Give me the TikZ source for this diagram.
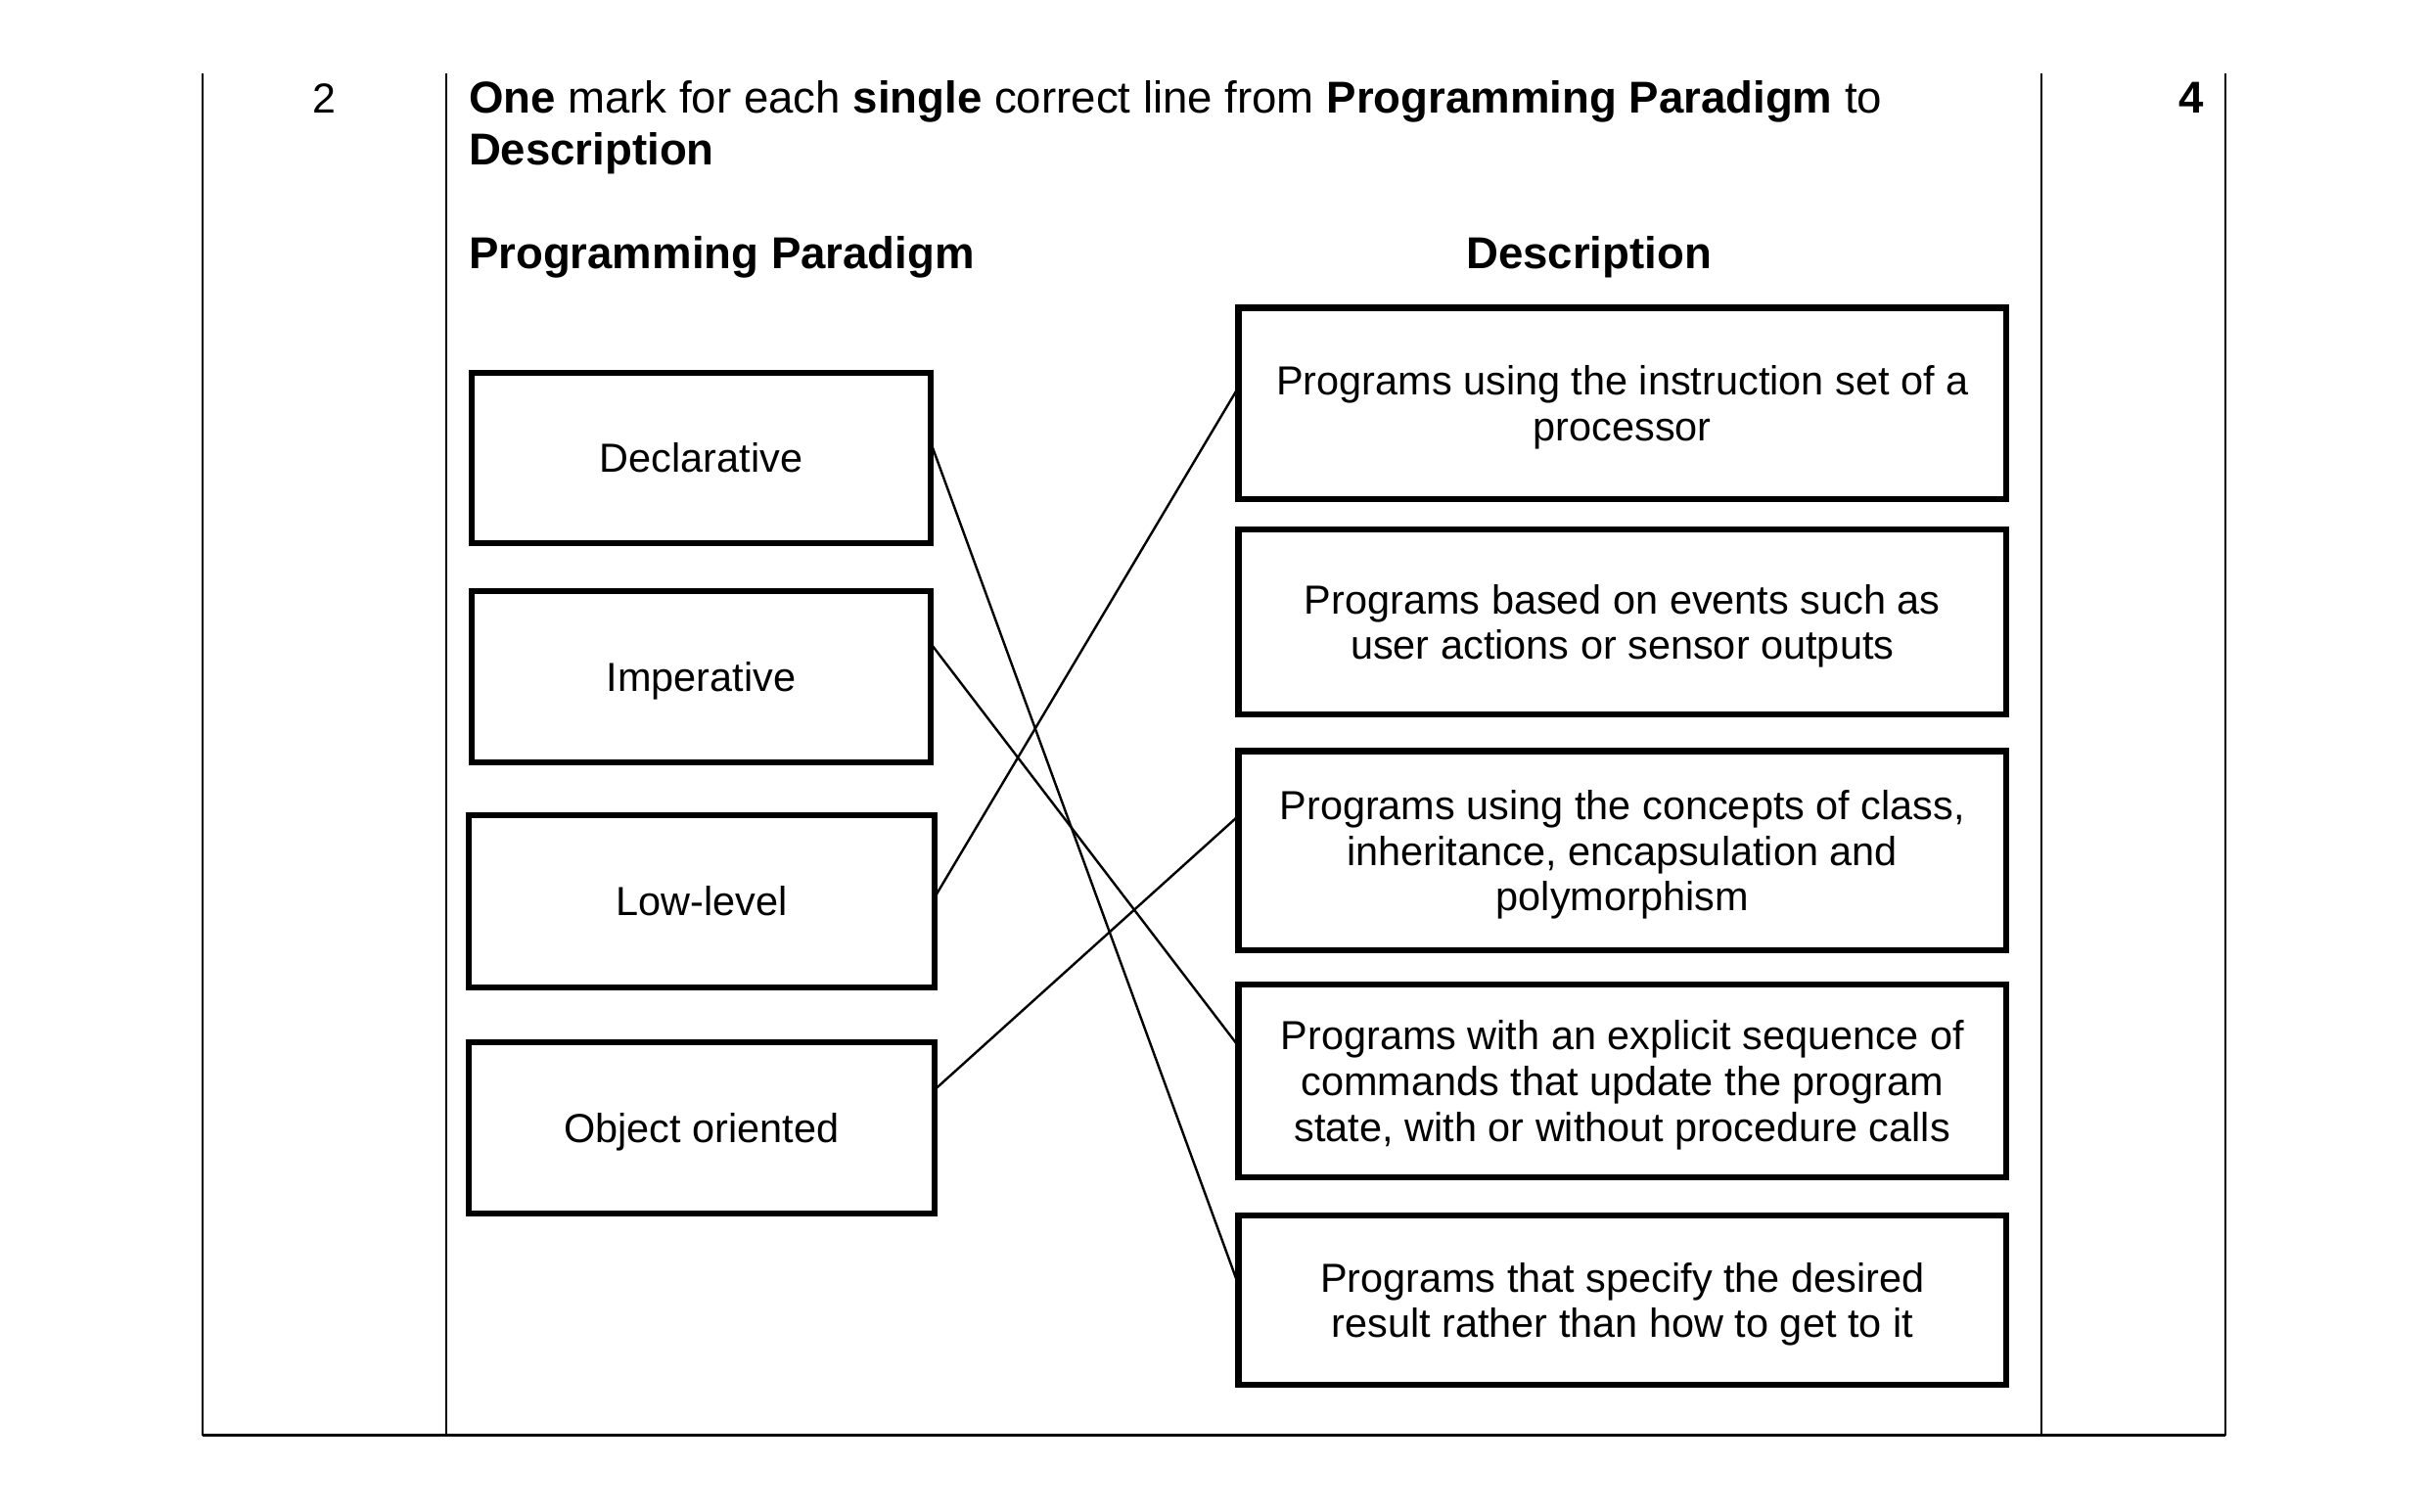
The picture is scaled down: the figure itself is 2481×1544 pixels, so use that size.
\documentclass[tikz,border=0pt]{standalone}
\usepackage{fontspec}
\setmainfont{Liberation Sans}
\newdimen\pxu
\pxu=0.2895pt
\newcommand\capline[1]{\raisebox{0pt}[8.6pt][0pt]{#1}}
\newcommand\capbig[1]{\raisebox{0pt}[9.45pt][0pt]{#1}}
\begin{document}
\begin{tikzpicture}[x=0.2895pt,y=-0.2895pt,
  tabline/.style={line width=0.65pt,black},
  conn/.style={line width=0.7pt,black},
  boxbase/.style={draw,line width=2pt,inner sep=0pt,outer sep=0pt,align=center,
    font=\fontsize{12}{13.5}\selectfont},
  lbox/.style={boxbase,minimum width=469\pxu},
  lboxw/.style={boxbase,minimum width=476\pxu},
  rbox/.style={boxbase,minimum width=784.5\pxu},
  txt/.style={inner sep=0pt,outer sep=0pt,font=\fontsize{13.2}{15.17}\selectfont}]
\useasboundingbox (0,0) rectangle (2481,1544);
% table frame
\coordinate (t1) at (207,75);   \coordinate (b1) at (207,1466.5);
\coordinate (t2) at (456,75);   \coordinate (b2) at (456,1466.5);
\coordinate (t3) at (2086,75);  \coordinate (b3) at (2086,1466.5);
\coordinate (t4) at (2274,75);  \coordinate (b4) at (2274,1466.5);
\draw[tabline] (t1) -- (b1);
\draw[tabline] (t2) -- (b2);
\draw[tabline] (t3) -- (b3);
\draw[tabline] (t4) -- (b4);
\draw[tabline] (b1) -- (b4);
% header texts
\node[txt,anchor=base,font=\fontsize{12.4}{14}\selectfont] (qnum) at (331.5,115.8) {2};
\node[txt,anchor=base] (marks) at (2239.3,115.8) {\textbf{4}};
\node[txt,anchor=north west,align=left] (instr) at (479,83.2)
  {\capbig{\textbf{One} mark for each \textbf{single} correct line from \textbf{Programming Paradigm} to}\\
   \textbf{Description}};
\node[txt,anchor=base west] (hpp) at (479,274) {\textbf{Programming Paradigm}};
\node[txt,anchor=base] (hdesc) at (1623.6,274) {\textbf{Description}};
% left boxes
\node[lbox,minimum height=174\pxu] (dec) at (716.5,468) {\capline{Declarative}};
\node[lbox,minimum height=175\pxu] (imp) at (716.5,691.5) {\capline{Imperative}};
\node[lboxw,minimum height=176\pxu] (low) at (717,921) {\capline{Low-level}};
\node[lboxw,minimum height=175\pxu] (obj) at (717,1152.5) {\capline{Object oriented}};
% right boxes
\node[rbox,minimum height=195.5\pxu] (d1) at (1657.75,412.25)
  {\capline{Programs using the instruction set of a}\\\capline{processor}};
\node[rbox,minimum height=189\pxu] (d2) at (1657.75,635.5)
  {\capline{Programs based on events such as}\\\capline{user actions or sensor outputs}};
\node[rbox,minimum height=203.5\pxu] (d3) at (1657.75,869.25)
  {\capline{Programs using the concepts of class,}\\\capline{inheritance, encapsulation and}\\\capline{polymorphism}};
\node[rbox,minimum height=197\pxu] (d4) at (1657.75,1104.5)
  {\capline{Programs with an explicit sequence of}\\\capline{commands that update the program}\\\capline{state, with or without procedure calls}};
\node[rbox,minimum height=173\pxu] (d5) at (1657.75,1328.5)
  {\capline{Programs that specify the desired}\\\capline{result rather than how to get to it}};
% connectors
\draw[conn] ([yshift=16\pxu]dec.east) -- ([yshift=15.5\pxu]d5.west);
\draw[conn] ([yshift=34\pxu]imp.east) -- ([yshift=35.5\pxu]d4.west);
\draw[conn] ([yshift=4\pxu]low.east) -- ([yshift=16.6\pxu]d1.west);
\draw[conn] ([yshift=39\pxu]obj.east) -- ([yshift=35.6\pxu]d3.west);
\end{tikzpicture}
\end{document}
